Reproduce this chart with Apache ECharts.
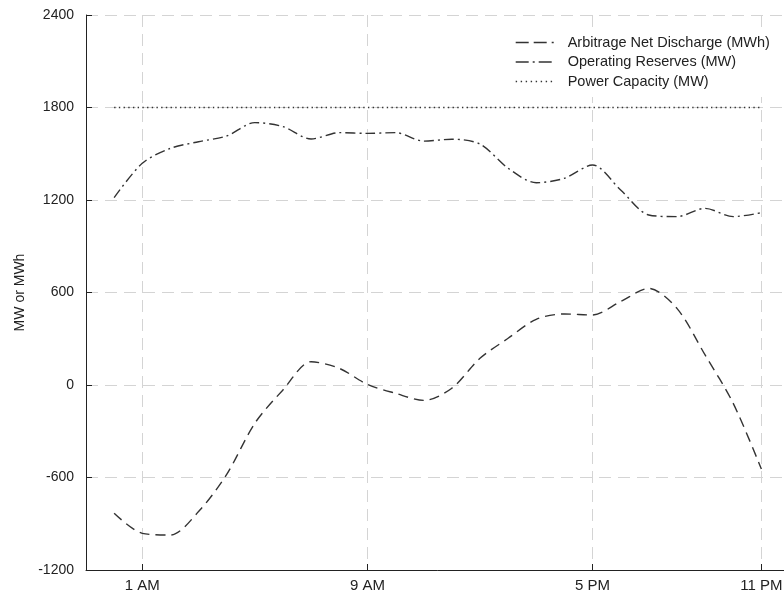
<!DOCTYPE html>
<html>
<head>
<meta charset="utf-8">
<script src="https://cdn.jsdelivr.net/npm/echarts@6/dist/echarts.min.js"></script>
<style>html,body{margin:0;padding:0;background:#fff;overflow:hidden}#c{width:810px;height:599px}</style>
</head>
<body>
<div id="c"></div>
<script>
// Hour categories: one padding slot before 12 AM and after 11 PM
const hours = ['', '12 AM','1 AM','2 AM','3 AM','4 AM','5 AM','6 AM','7 AM','8 AM','9 AM','10 AM','11 AM',
  '12 PM','1 PM','2 PM','3 PM','4 PM','5 PM','6 PM','7 PM','8 PM','9 PM','10 PM','11 PM', ''];
const shownTicks = ['1 AM', '9 AM', '5 PM', '11 PM'];
const yTicks = [-1200, -600, 0, 600, 1200, 1800, 2400];

const arbitrage = [-832, -962, -973, -821, -580, -248, -32, 151, 108, 4, -54, -100,
  -21, 173, 303, 426, 461, 454, 541, 627, 497, 195, -119, -545];
const reserves = [1215, 1438, 1535, 1578, 1615, 1702, 1676, 1596, 1637, 1632, 1637, 1582,
  1594, 1563, 1406, 1312, 1341, 1427, 1265, 1103, 1092, 1146, 1092, 1118];
const capacity = [1800, 1800, 1800, 1800, 1800, 1800, 1800, 1800, 1800, 1800, 1800, 1800,
  1800, 1800, 1800, 1800, 1800, 1800, 1800, 1800, 1800, 1800, 1800, 1800];

const seriesNames = ['Arbitrage Net Discharge (MWh)', 'Operating Reserves (MW)', 'Power Capacity (MW)'];

const pad = arr => [null].concat(arr, [null]);
const showIdx = (i, v) => shownTicks.indexOf(v) >= 0;
const font = 'Liberation Sans, Arial, Helvetica, sans-serif';
const ink = '#222';
const hiddenSymbol = {opacity: 0, color: 'rgba(0,0,0,0)', borderWidth: 0};

const chart = echarts.init(document.getElementById('c'), null, {renderer: 'canvas'});
chart.setOption({
  animation: false,
  backgroundColor: '#fff',
  grid: {left: 86, right: 20.5, top: 15, bottom: 29, containLabel: false},
  legend: {
    orient: 'vertical', left: 508, top: 27, itemGap: 4.5,
    padding: [8, 8, 8, 7],
    backgroundColor: '#fff',
    itemWidth: 38, itemHeight: 14,
    itemStyle: hiddenSymbol,
    textStyle: {fontFamily: font, fontSize: 14.5, color: ink, padding: [0, 0, 0, 9]},
    data: [
      {name: seriesNames[0], itemStyle: hiddenSymbol, lineStyle: {color: '#333', width: 1.4, type: [13, 5], opacity: 1}},
      {name: seriesNames[1], itemStyle: hiddenSymbol, lineStyle: {color: '#333', width: 1.4, type: [13, 4, 2, 4], opacity: 1}},
      {name: seriesNames[2], itemStyle: hiddenSymbol, lineStyle: {color: '#333', width: 1.4, type: [1.4, 3.6], opacity: 1}}
    ]
  },
  xAxis: {
    type: 'category', boundaryGap: false, data: hours,
    axisLine: {onZero: false, lineStyle: {color: ink, width: 1}},
    axisTick: {inside: true, length: 6, interval: showIdx, lineStyle: {color: ink}},
    axisLabel: {interval: showIdx, fontFamily: font, fontSize: 15, color: ink, margin: 8},
    splitLine: {show: true, interval: showIdx, lineStyle: {color: '#d4d4d4', type: [12, 7], width: 1}}
  },
  yAxis: {
    type: 'value', min: yTicks[0], max: yTicks[yTicks.length - 1], interval: 600,
    name: 'MW or MWh', nameLocation: 'middle', nameGap: 52,
    nameTextStyle: {fontFamily: font, fontSize: 14, color: ink},
    axisLine: {show: true, lineStyle: {color: ink, width: 1}},
    axisTick: {show: true, inside: true, length: 6, lineStyle: {color: ink}},
    axisLabel: {fontFamily: font, fontSize: 14, color: ink, margin: 12, formatter: v => String(v)},
    splitLine: {show: true, lineStyle: {color: '#d4d4d4', type: [12, 7], width: 1}}
  },
  series: [
    {name: seriesNames[0], type: 'line', data: pad(arbitrage), smooth: 0.3, symbol: 'none',
     lineStyle: {color: '#333', width: 1.4, type: [10, 6]}, itemStyle: {color: '#333'}},
    {name: seriesNames[1], type: 'line', data: pad(reserves), smooth: 0.3, symbol: 'none',
     lineStyle: {color: '#333', width: 1.4, type: [10, 4, 2, 4]}, itemStyle: {color: '#333'}},
    {name: seriesNames[2], type: 'line', data: pad(capacity), symbol: 'none',
     lineStyle: {color: '#333', width: 1.4, type: [1.4, 3.3]}, itemStyle: {color: '#333'}}
  ]
});
</script>
</body>
</html>
